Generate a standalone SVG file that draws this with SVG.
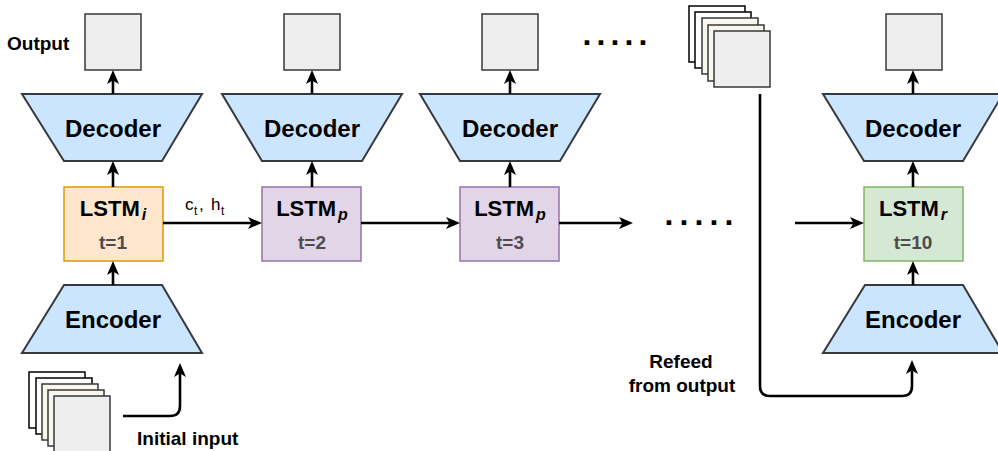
<svg xmlns="http://www.w3.org/2000/svg" width="998" height="451" viewBox="0 0 998 451">
<style>
  text { font-family: "Liberation Sans", Arial, Helvetica, sans-serif; }
  .coder { font-size: 24px; font-weight: bold; fill: #000; text-anchor: middle; }
  .lstm { font-size: 22px; font-weight: bold; fill: #000; text-anchor: middle; }
  .sub { font-size: 16px; font-style: italic; font-weight: bold; }
  .t { font-size: 19px; font-weight: bold; fill: #4d4d4d; text-anchor: middle; }
  .lbl { font-size: 19px; font-weight: bold; fill: #000; }
  .dots { font-size: 32px; font-weight: bold; fill: #000; }
  .st { font-size: 17px; fill: #000; }
  .sts { font-size: 12px; }
  .trap { fill: #cce5ff; stroke: #36393d; stroke-width: 2; }
  .out { fill: #eeeeee; stroke: #36393d; stroke-width: 1.5; }
  .li { fill: #ffe6cc; stroke: #d79b00; stroke-width: 1.5; }
  .lp { fill: #e1d5e7; stroke: #9673a6; stroke-width: 1.5; }
  .lr { fill: #d5e8d4; stroke: #82b366; stroke-width: 1.5; }
  .pw { fill: #ffffff; stroke: #000; stroke-width: 1.5; }
  .pc { fill: #f9f7ed; stroke: #36393d; stroke-width: 1.5; }
  .pg { fill: #eeeeee; stroke: #36393d; stroke-width: 1.5; }
  .edge { fill: none; stroke: #000; stroke-width: 2.6; marker-end: url(#arr); }
</style>
<defs>
  <marker id="arr" viewBox="0 0 14 14" refX="5" refY="7" markerWidth="14" markerHeight="14" markerUnits="userSpaceOnUse" orient="auto">
    <path d="M0,1 L14,7 L0,13 L3.5,7 z" fill="#000"/>
  </marker>
</defs>

<!-- Column 1 -->
<g id="output1"><rect class="out" x="85" y="14" width="56" height="56"/></g>
<g id="output-label"><text class="lbl" x="7" y="50">Output</text></g>
<g id="decoder1"><polygon class="trap" points="22,94 202,94 162,161 64,161"/><text class="coder" x="113" y="137">Decoder</text></g>
<g id="lstm1"><rect class="li" x="64" y="187" width="99" height="74"/><text class="lstm" x="113" y="216">LSTM<tspan class="sub" dx="2" dy="4">i</tspan></text><text class="t" x="113" y="249">t=1</text></g>
<g id="encoder1"><polygon class="trap" points="64,285 162,285 202,353 22,353"/><text class="coder" x="113" y="328">Encoder</text></g>

<!-- Column 2 -->
<g id="output2"><rect class="out" x="284" y="14" width="56" height="56"/></g>
<g id="decoder2"><polygon class="trap" points="222,94 402,94 362,161 262,161"/><text class="coder" x="312" y="137">Decoder</text></g>
<g id="lstm2"><rect class="lp" x="262" y="187" width="99" height="74"/><text class="lstm" x="312" y="216">LSTM<tspan class="sub" dx="2" dy="4">p</tspan></text><text class="t" x="312" y="249">t=2</text></g>

<!-- Column 3 -->
<g id="output3"><rect class="out" x="482" y="14" width="56" height="56"/></g>
<g id="decoder3"><polygon class="trap" points="420,94 600,94 560,161 460,161"/><text class="coder" x="510" y="137">Decoder</text></g>
<g id="lstm3"><rect class="lp" x="460" y="187" width="99" height="74"/><text class="lstm" x="510" y="216">LSTM<tspan class="sub" dx="2" dy="4">p</tspan></text><text class="t" x="510" y="249">t=3</text></g>

<!-- Column 4 -->
<g id="output4"><rect class="out" x="886" y="14" width="56" height="56"/></g>
<g id="decoder4"><polygon class="trap" points="823,94 1003,94 963,161 864,161"/><text class="coder" x="913" y="137">Decoder</text></g>
<g id="lstm4"><rect class="lr" x="864" y="187" width="99" height="74"/><text class="lstm" x="913" y="216">LSTM<tspan class="sub" dx="2" dy="4">r</tspan></text><text class="t" x="913" y="249">t=10</text></g>
<g id="encoder4"><polygon class="trap" points="865,285 963,285 1003,353 823,353"/><text class="coder" x="913" y="328">Encoder</text></g>

<!-- Ellipses -->
<g id="dots-top"><text class="dots" x="582.5" y="45" style="letter-spacing:5.1px">.....</text></g>
<g id="dots-mid"><text class="dots" x="664.5" y="225" style="letter-spacing:6.1px">.....</text></g>

<!-- Frame stacks -->
<g id="stack-top">
  <rect class="pw" x="689" y="6" width="56" height="56"/>
  <rect class="pw" x="695" y="12" width="56" height="56"/>
  <rect class="pc" x="702" y="18" width="56" height="56"/>
  <rect class="pc" x="708" y="25" width="56" height="56"/>
  <rect class="pg" x="714" y="31" width="56" height="56"/>
</g>
<g id="stack-input">
  <rect class="pw" x="29" y="372" width="56" height="56"/>
  <rect class="pw" x="36" y="378" width="56" height="56"/>
  <rect class="pc" x="42" y="384" width="56" height="56"/>
  <rect class="pc" x="48" y="390" width="56" height="56"/>
  <rect class="pg" x="54" y="396" width="56" height="56"/>
</g>

<!-- Labels -->
<g id="initial-input-label"><text class="lbl" x="137" y="445">Initial input</text></g>
<g id="refeed-label"><text class="lbl" x="681" y="368" text-anchor="middle">Refeed</text><text class="lbl" x="682" y="392" text-anchor="middle">from output</text></g>
<g id="state-label"><text class="st" y="210"><tspan x="185">c</tspan><tspan class="sts" x="194" dy="5">t</tspan><tspan x="199" dy="-5">,</tspan><tspan x="211">h</tspan><tspan class="sts" x="221" dy="5">t</tspan></text></g>

<!-- Connectors -->
<g id="connectors">
  <path class="edge" d="M113,94 V79"/>
  <path class="edge" d="M113,187 V170"/>
  <path class="edge" d="M113,285 V270"/>
  <path class="edge" d="M312,94 V79"/>
  <path class="edge" d="M312,187 V170"/>
  <path class="edge" d="M510,94 V79"/>
  <path class="edge" d="M510,187 V170"/>
  <path class="edge" d="M913,94 V79"/>
  <path class="edge" d="M913,187 V170"/>
  <path class="edge" d="M913,285 V270"/>
  <path class="edge" d="M163,223 H253"/>
  <path class="edge" d="M361,223 H451"/>
  <path class="edge" d="M559,223 H624"/>
  <path class="edge" d="M795,223 H855"/>
  <path class="edge" d="M123,416 H170 Q180,416 180,406 V372"/>
  <path class="edge" d="M760,94 V386 Q760,396 770,396 H902 Q912,396 912,386 V369"/>
</g>
</svg>
